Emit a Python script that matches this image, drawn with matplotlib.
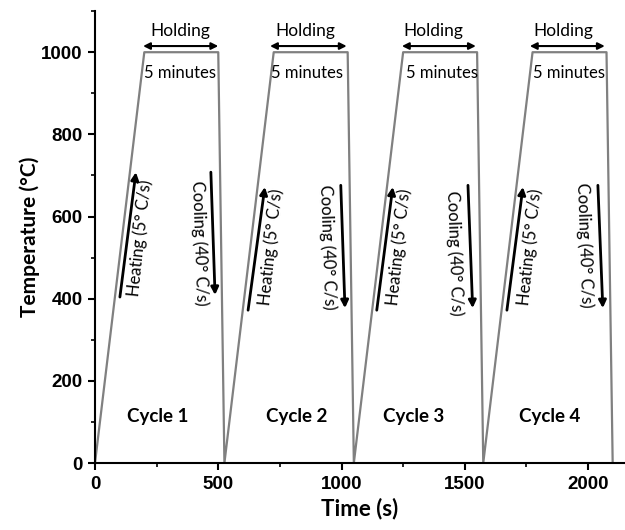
import matplotlib
matplotlib.use("Agg")
import matplotlib.pyplot as plt
from matplotlib.ticker import MultipleLocator

# =========================
# DATA
# =========================
# thermal profile corner points (time s, temperature C)
time_pts = [0, 200, 500, 525, 725, 1025, 1050, 1250, 1550, 1575, 1775, 2075, 2100]
temp_pts = [0, 1000, 1000, 0, 1000, 1000, 0, 1000, 1000, 0, 1000, 1000, 0]

cycle_labels = ["Cycle 1", "Cycle 2", "Cycle 3", "Cycle 4"]
cycle_x = [255, 820, 1292, 1845]
cycle_y = 112

# holding double arrows
hold_start = [195, 710, 1245, 1764]
hold_end = [500, 1021, 1545, 2068]
hold_y = 1015
holding_x = [345, 855, 1371, 1898]
minutes_x = [199, 712, 1261, 1776]

# heating arrows (tail -> head)
heat_x0 = [101, 621, 1143, 1671]
heat_y0 = [404, 372, 372, 372]
heat_x1 = [166, 689, 1208, 1736]
heat_y1 = [708, 672, 672, 672]
heat_tx = [184, 712, 1231, 1766]
heat_ty = [547, 526, 526, 526]

# cooling arrows (tail -> head)
cool_x0 = [470, 997, 1513, 2040]
cool_y0 = [708, 676, 676, 676]
cool_x1 = [487, 1014, 1532, 2060]
cool_y1 = [409, 377, 377, 377]
cool_tx = [424, 943, 1458, 1985]
cool_ty = [535, 525, 511, 530]

TXT_FONT = ["Lato", "DejaVu Sans"]
TICK_FONT = ["Liberation Sans", "DejaVu Sans"]

fig = plt.figure(figsize=(6.25, 5.3), dpi=100)
ax = fig.add_axes([0.152, 0.1264, 0.848, 0.8526])

ax.plot(time_pts, temp_pts, color="#808080", lw=1.6)

ax.set_xlim(0, 2150)
ax.set_ylim(0, 1100)
ax.xaxis.set_major_locator(MultipleLocator(500))
ax.xaxis.set_minor_locator(MultipleLocator(250))
ax.yaxis.set_major_locator(MultipleLocator(200))
ax.yaxis.set_minor_locator(MultipleLocator(100))

for s in ["top", "right"]:
    ax.spines[s].set_visible(False)
for s in ["left", "bottom"]:
    ax.spines[s].set_linewidth(1.5)

ax.tick_params(which="major", direction="out", length=5, width=1.5, pad=4)
ax.tick_params(which="minor", direction="out", length=3, width=1.2)
for lab in ax.get_xticklabels() + ax.get_yticklabels():
    lab.set_fontfamily(TICK_FONT)
    lab.set_fontweight("bold")
    lab.set_fontsize(13.5)

ax.set_xlabel("Time (s)", fontsize=16, fontweight="bold", family=TXT_FONT, labelpad=4)
ax.set_ylabel("Temperature (°C)", fontsize=15, fontweight="bold", family=TXT_FONT, labelpad=1)

for i in range(4):
    # holding
    ax.annotate("", xy=(hold_end[i], hold_y), xytext=(hold_start[i], hold_y),
                arrowprops=dict(arrowstyle="<|-|>", color="black", lw=1.5,
                                mutation_scale=10, shrinkA=0, shrinkB=0))
    ax.text(holding_x[i], hold_y + 18, "Holding", ha="center", va="bottom",
            fontsize=12.5, family=TXT_FONT)
    ax.text(minutes_x[i], 950, "5 minutes", ha="left", va="center",
            fontsize=12, family=TXT_FONT)

    # heating
    ax.annotate("", xy=(heat_x1[i], heat_y1[i]), xytext=(heat_x0[i], heat_y0[i]),
                arrowprops=dict(arrowstyle="-|>", color="black", lw=2,
                                mutation_scale=11, shrinkA=0, shrinkB=0))
    ax.text(heat_tx[i], heat_ty[i], "Heating (5° C/s)", rotation=84,
            ha="center", va="center", fontsize=12, family=TXT_FONT,
            rotation_mode="anchor")

    # cooling
    ax.annotate("", xy=(cool_x1[i], cool_y1[i]), xytext=(cool_x0[i], cool_y0[i]),
                arrowprops=dict(arrowstyle="-|>", color="black", lw=2,
                                mutation_scale=11, shrinkA=0, shrinkB=0))
    ax.text(cool_tx[i], cool_ty[i], "Cooling (40° C/s)", rotation=-88,
            ha="center", va="center", fontsize=12, family=TXT_FONT,
            rotation_mode="anchor")

    ax.text(cycle_x[i], cycle_y, cycle_labels[i], ha="center", va="center",
            fontsize=13.5, fontweight="bold", family=TXT_FONT)

fig.savefig("out.png", dpi=100)
